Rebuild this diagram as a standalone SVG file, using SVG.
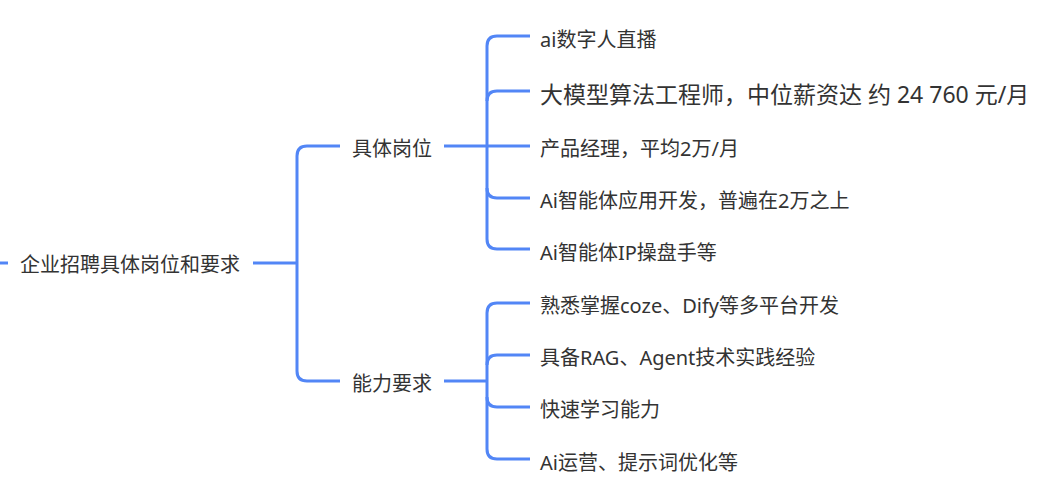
<svg xmlns="http://www.w3.org/2000/svg" width="1060" height="480" viewBox="0 0 1060 480">
<style>
.c{fill:none;stroke:#5286f6;stroke-width:3;stroke-linecap:butt}
.t{font-family:"Noto Sans","Noto Sans CJK SC",sans-serif;font-size:20px;fill:#333;dominant-baseline:central}
.big{font-size:23px}
</style>
<rect width="1060" height="480" fill="#fff"/>
<g id="connectors">
<path class="c" d="M0 263H8"/>
<path class="c" d="M253 263H297"/>
<path class="c" d="M340 146H307Q297 146 297 156V371Q297 381 307 381H340"/>
<path class="c" d="M444 146H530"/>
<path class="c" d="M530 36H497Q487 36 487 46V239Q487 249 497 249H530"/>
<path class="c" d="M487 101Q487 91 497 91H530"/>
<path class="c" d="M487 188Q487 198 497 198H530"/>
<path class="c" d="M444 381H487"/>
<path class="c" d="M530 303H497Q487 303 487 313V449Q487 459 497 459H530"/>
<path class="c" d="M487 365Q487 355 497 355H530"/>
<path class="c" d="M487 397Q487 407 497 407H530"/>
</g>
<g id="root"><text class="t" x="20" y="264">企业招聘具体岗位和要求</text></g>
<g id="n-jobs"><text class="t" x="352" y="148">具体岗位</text></g>
<g id="n-skills"><text class="t" x="352" y="383">能力要求</text></g>
<g id="j1"><text class="t" x="540" y="39">ai数字人直播</text></g>
<g id="j2"><text class="t big" x="540" y="94">大模型算法工程师，中位薪资达 约 24 760 元/月</text></g>
<g id="j3"><text class="t" x="540" y="148">产品经理，平均2万/月</text></g>
<g id="j4"><text class="t" x="540" y="200">Ai智能体应用开发，普遍在2万之上</text></g>
<g id="j5"><text class="t" x="540" y="252">Ai智能体IP操盘手等</text></g>
<g id="s1"><text class="t" x="540" y="305">熟悉掌握coze、Dify等多平台开发</text></g>
<g id="s2"><text class="t" x="540" y="357">具备RAG、Agent技术实践经验</text></g>
<g id="s3"><text class="t" x="540" y="409">快速学习能力</text></g>
<g id="s4"><text class="t" x="540" y="462">Ai运营、提示词优化等</text></g>
</svg>
